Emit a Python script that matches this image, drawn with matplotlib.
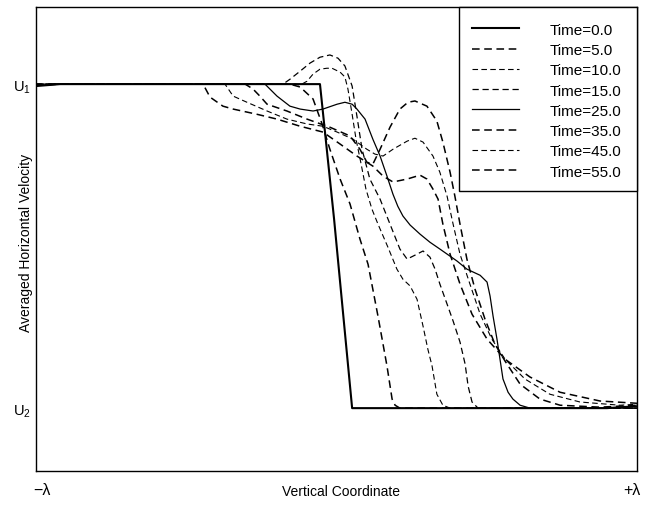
import numpy as np
import matplotlib
matplotlib.use("Agg")
import matplotlib.pyplot as plt
from matplotlib.patches import Rectangle
from matplotlib.transforms import ScaledTranslation

plt.rcParams['font.family'] = ['Liberation Sans', 'DejaVu Sans']
plt.rcParams['mathtext.default'] = 'regular'

# x in units of lambda (-1 .. +1), y scaled so that U2 = 0 and U1 = 1
x_t0 = [-1.0, -0.92, -0.055, -0.008, 0.052, 0.90, 1.0]
y_t0 = [0.994, 1.0, 1.0, 0.583, 0.0, 0.0, 0.006]

x_t5 = [-1.0, -0.155, -0.121, -0.078, -0.048, -0.022, 0.012, 0.045, 0.078,
        0.105, 0.138, 0.168, 0.185, 0.195, 0.211, 1.0]
y_t5 = [1.0, 1.0, 0.991, 0.954, 0.877, 0.799, 0.707, 0.630, 0.522,
        0.444, 0.284, 0.130, 0.028, 0.009, 0.0, 0.0]

x_t10 = [-1.0, -0.138, -0.121, -0.098, -0.078, -0.055, -0.032, -0.015, 0.012,
         0.028, 0.038, 0.052, 0.065, 0.082, 0.098, 0.118, 0.138, 0.171, 0.201,
         0.221, 0.245, 0.268, 0.288, 0.304, 0.318, 0.334, 0.354, 0.378, 1.0]
y_t10 = [1.0, 1.0, 0.997, 1.009, 1.031, 1.046, 1.049, 1.049, 1.037,
         1.022, 0.985, 0.907, 0.830, 0.753, 0.676, 0.614, 0.568, 0.497, 0.429,
         0.398, 0.377, 0.336, 0.253, 0.182, 0.130, 0.043, 0.009, 0.0, 0.0]

x_t15 = [-1.0, -0.178, -0.155, -0.121, -0.088, -0.055, -0.022, 0.005, 0.028,
         0.052, 0.068, 0.085, 0.111, 0.145, 0.178, 0.211, 0.235, 0.261, 0.288,
         0.311, 0.328, 0.344, 0.368, 0.388, 0.411, 0.428, 0.438, 0.451, 0.471, 1.0]
y_t15 = [1.0, 1.0, 1.015, 1.040, 1.065, 1.083, 1.090, 1.080, 1.056,
         0.994, 0.901, 0.799, 0.707, 0.645, 0.568, 0.491, 0.460, 0.472, 0.485,
         0.466, 0.429, 0.383, 0.321, 0.269, 0.204, 0.136, 0.068, 0.019, 0.0, 0.0]

x_t25 = [-1.0, -0.238, -0.198, -0.155, -0.121, -0.078, -0.045, 0.002, 0.028,
         0.052, 0.068, 0.095, 0.121, 0.145, 0.168, 0.188, 0.204, 0.221, 0.245,
         0.278, 0.311, 0.344, 0.401, 0.434, 0.478, 0.501, 0.511, 0.521, 0.534,
         0.554, 0.571, 0.587, 0.611, 0.644, 1.0]
y_t25 = [1.0, 1.0, 0.963, 0.932, 0.923, 0.917, 0.923, 0.938, 0.944,
         0.938, 0.923, 0.892, 0.830, 0.778, 0.716, 0.660, 0.623, 0.593, 0.565,
         0.537, 0.512, 0.491, 0.454, 0.429, 0.410, 0.389, 0.346, 0.284, 0.213,
         0.090, 0.049, 0.028, 0.009, 0.0, 0.0]

x_t35 = [-1.0, -0.920, -0.304, -0.278, -0.255, -0.231, -0.165, -0.098, -0.022,
         0.045, 0.078, 0.101, 0.121, 0.145, 0.178, 0.211, 0.238, 0.261, 0.301,
         0.334, 0.354, 0.378, 0.394, 0.411, 0.434, 0.461, 0.494, 0.527, 0.561,
         0.611, 0.677, 0.744, 0.877, 1.0]
y_t35 = [0.997, 1.0, 1.0, 0.985, 0.963, 0.938, 0.917, 0.892, 0.867,
         0.840, 0.799, 0.759, 0.753, 0.799, 0.867, 0.923, 0.944, 0.948, 0.932,
         0.886, 0.821, 0.728, 0.654, 0.568, 0.460, 0.367, 0.275, 0.198, 0.145,
         0.074, 0.028, 0.009, 0.003, 0.009]

x_t45 = [-1.0, -0.920, -0.371, -0.344, -0.298, -0.231, -0.165, -0.098, -0.045,
         0.002, 0.055, 0.101, 0.128, 0.155, 0.188, 0.235, 0.261, 0.288, 0.321,
         0.344, 0.368, 0.388, 0.411, 0.444, 0.478, 0.517, 0.561, 0.627, 0.710,
         0.810, 0.943, 1.0]
y_t45 = [0.997, 1.0, 1.0, 0.963, 0.944, 0.917, 0.892, 0.877, 0.870,
         0.852, 0.830, 0.799, 0.784, 0.778, 0.799, 0.824, 0.833, 0.821, 0.778,
         0.728, 0.654, 0.568, 0.475, 0.383, 0.290, 0.213, 0.151, 0.090, 0.043,
         0.019, 0.009, 0.012]

x_t55 = [-1.0, -0.920, -0.444, -0.421, -0.378, -0.344, -0.265, -0.198, -0.121,
         -0.045, 0.012, 0.068, 0.121, 0.155, 0.188, 0.235, 0.278, 0.301, 0.321,
         0.338, 0.354, 0.378, 0.411, 0.451, 0.501, 0.561, 0.644, 0.744, 0.877, 1.0]
y_t55 = [0.997, 1.0, 1.0, 0.960, 0.932, 0.923, 0.907, 0.892, 0.870,
         0.852, 0.815, 0.778, 0.747, 0.716, 0.698, 0.707, 0.719, 0.707, 0.676,
         0.645, 0.568, 0.475, 0.383, 0.290, 0.213, 0.151, 0.096, 0.049, 0.022, 0.015]

curves = [
    ("Time=0.0", x_t0, y_t0, '-', 1.5),
    ("Time=5.0", x_t5, y_t5, '--', 1.1),
    ("Time=10.0", x_t10, y_t10, '--', 0.8),
    ("Time=15.0", x_t15, y_t15, '--', 0.9),
    ("Time=25.0", x_t25, y_t25, '-', 0.9),
    ("Time=35.0", x_t35, y_t35, '--', 1.1),
    ("Time=45.0", x_t45, y_t45, '--', 0.8),
    ("Time=55.0", x_t55, y_t55, '--', 1.1),
]

fig = plt.figure(figsize=(6.46, 5.06), dpi=100)
ax = fig.add_axes([36 / 646, 34 / 506, 601 / 646, 464 / 506])

for label, xs, ys, ls, lw in curves:
    line, = ax.plot(xs, ys, color='black', linestyle=ls, linewidth=lw, label=label)
    if ls == '--':
        line.set_dashes((5, 3))

ax.set_xlim(-1, 1)
ax.set_ylim(-0.194, 1.238)
ax.set_xticks([-1, 1])
ax.set_xticklabels(['\u2212\u03bb', '+\u03bb'], fontsize=11.5)
ax.set_yticks([0, 1])
ax.set_yticklabels(['U$_2$', 'U$_1$'], fontsize=10.5)
ax.tick_params(axis='both', length=0)
ax.tick_params(axis='x', pad=8)
ax.tick_params(axis='y', pad=4)
xlabels = ax.get_xticklabels()
xlabels[0].set_transform(xlabels[0].get_transform() + ScaledTranslation(4 / 72, 0, fig.dpi_scale_trans))
xlabels[1].set_transform(xlabels[1].get_transform() + ScaledTranslation(-4 / 72, 0, fig.dpi_scale_trans))

ax.set_xlabel('Vertical Coordinate', fontsize=10)
ax.xaxis.set_label_coords(0.507, -0.028)
ax.set_ylabel('Averaged Horizontal Velocity', fontsize=10)
ax.yaxis.set_label_coords(-0.005, 0.494)

for sp in ax.spines.values():
    sp.set_linewidth(1.0)

# legend box drawn separately, entries placed inside it
ax.add_patch(Rectangle((0.7038, 0.6034), 0.2962, 0.3966, transform=ax.transAxes,
                       facecolor='white', edgecolor='black', linewidth=1.0,
                       zorder=4, clip_on=False))
leg = ax.legend(loc='upper left', bbox_to_anchor=(0.7255, 0.966), frameon=False,
                borderaxespad=0, borderpad=0, fontsize=11,
                handlelength=3.1, handletextpad=2.0, labelspacing=0.41)
leg.set_zorder(5)

fig.savefig('out.png', dpi=100)
